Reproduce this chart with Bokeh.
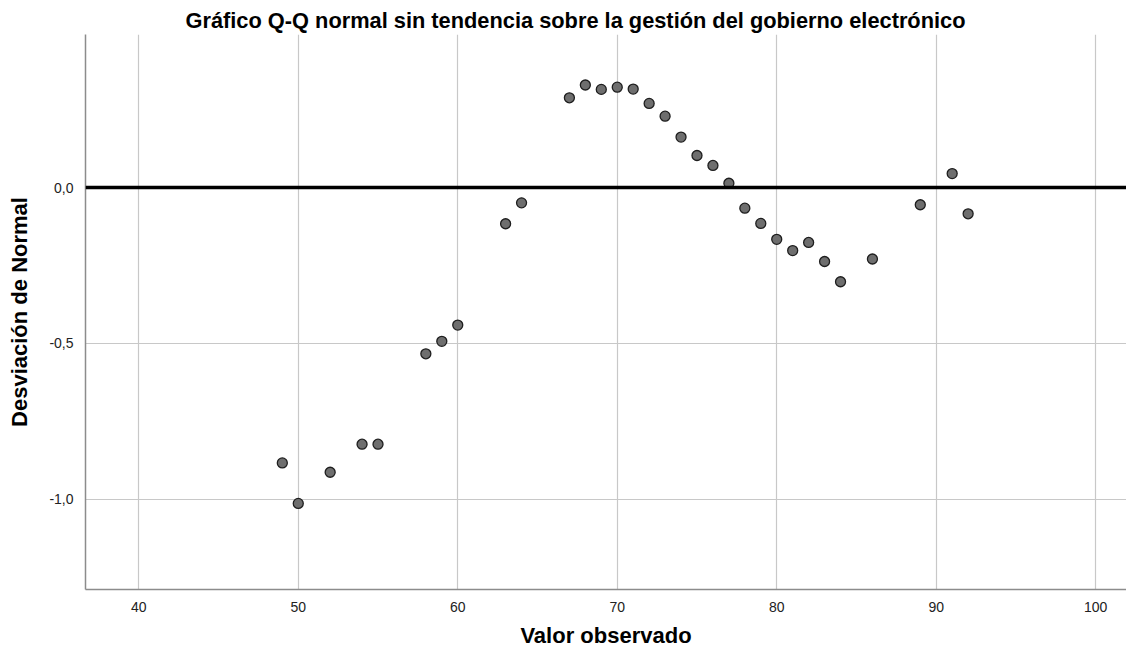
from bokeh.plotting import figure
from bokeh.models import Range1d, FixedTicker, CustomJSTickFormatter, Span
from bokeh.embed import file_html
from bokeh.resources import INLINE

# Observed values and detrended normal deviations
observed = [49, 50, 52, 54, 55, 58, 59, 60, 63, 64, 67, 68, 69, 70, 71, 72, 73, 74,
            75, 76, 77, 78, 79, 80, 81, 82, 83, 84, 86, 89, 91, 92]
deviation = [-0.883, -1.013, -0.913, -0.823, -0.823, -0.533, -0.493, -0.441, -0.116, -0.049,
             0.288, 0.329, 0.315, 0.322, 0.316, 0.270, 0.229, 0.162,
             0.103, 0.071, 0.014, -0.066, -0.115, -0.166, -0.202, -0.176, -0.237, -0.302,
             -0.229, -0.055, 0.045, -0.084]
x_ticks = [40, 50, 60, 70, 80, 90, 100]
y_ticks = [-1.0, -0.5, 0.0]

FONT = "Liberation Sans"

p = figure(width=1126, height=650, output_backend="svg", toolbar_location=None,
           x_range=Range1d(36.66, 101.93), y_range=Range1d(-1.289, 0.491),
           min_border_left=85, min_border_right=0, min_border_top=34, min_border_bottom=57)
p.outline_line_color = None
p.background_fill_color = "white"

p.title.text = "Gráfico Q-Q normal sin tendencia sobre la gestión del gobierno electrónico"
p.title.text_font = FONT
p.title.text_font_size = "21.8px"
p.title.text_font_style = "bold"
p.title.text_color = "black"
p.title.align = "left"
p.title.offset = 100
p.title.standoff = 3

fmt = CustomJSTickFormatter(code="return tick.toFixed(1).replace('.', ',');")

p.xaxis.ticker = FixedTicker(ticks=x_ticks)
p.yaxis.ticker = FixedTicker(ticks=y_ticks)
p.yaxis.formatter = fmt
for ax in (p.xaxis[0], p.yaxis[0]):
    ax.axis_line_color = "#8c8c8c"
    ax.axis_line_width = 1.5
    ax.major_tick_line_color = None
    ax.minor_tick_line_color = None
    ax.major_label_text_font = FONT
    ax.major_label_text_font_size = "14px"
    ax.major_label_text_color = "#222222"
    ax.axis_label_text_font = FONT
    ax.axis_label_text_font_size = "22px"
    ax.axis_label_text_font_style = "bold"
    ax.axis_label_text_color = "black"

p.xaxis.axis_label = "Valor observado"
p.yaxis.axis_label = "Desviación de Normal"
p.xaxis.major_label_standoff = 6
p.xaxis.axis_label_standoff = 8
p.yaxis.major_label_standoff = 6
p.yaxis.axis_label_standoff = 14

p.xgrid.ticker = FixedTicker(ticks=x_ticks)
p.ygrid.ticker = FixedTicker(ticks=y_ticks)
p.grid.grid_line_color = "#c8c8c8"
p.grid.grid_line_width = 1.2

p.add_layout(Span(location=0, dimension="width", line_color="black", line_width=3.5))

p.scatter(observed, deviation, size=10, marker="circle",
          fill_color="#6e6e6e", line_color="#1e1e1e", line_width=1.3)

open("out.html", "w").write(file_html(p, INLINE))
